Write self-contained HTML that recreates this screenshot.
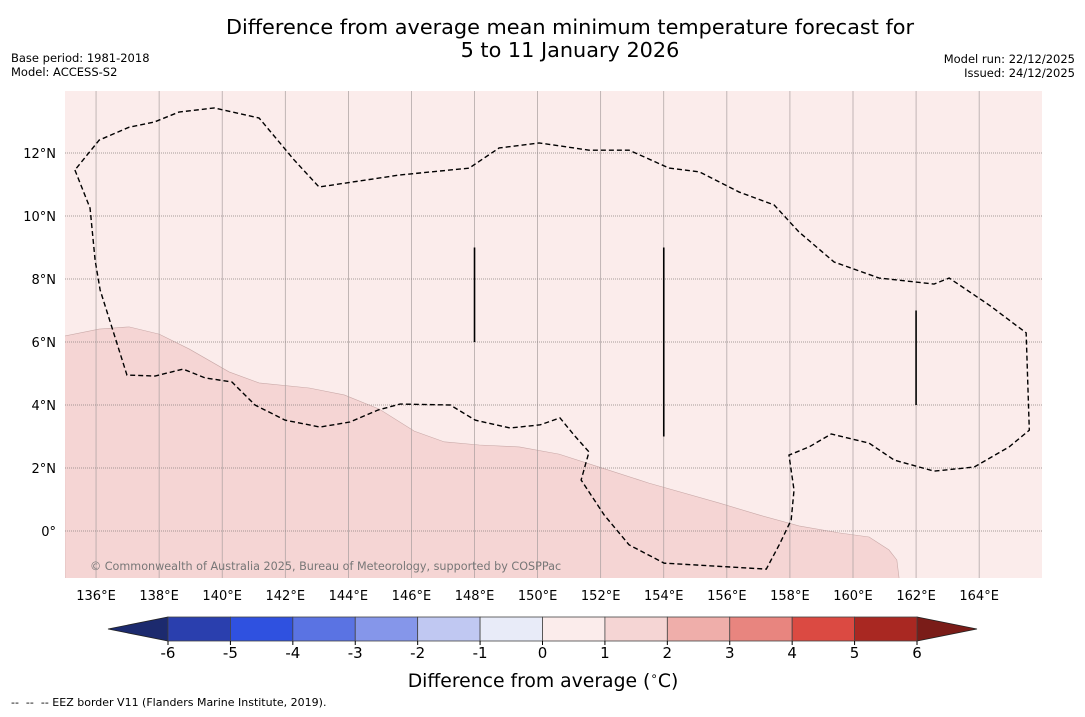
<!DOCTYPE html>
<html><head><meta charset="utf-8">
<style>
html,body{margin:0;padding:0;background:#fff;}
body{width:1085px;height:713px;overflow:hidden;font-family:"DejaVu Sans","Liberation Sans",sans-serif;}
</style></head>
<body>
<svg id="chart" width="1085" height="713" xmlns="http://www.w3.org/2000/svg" font-family="DejaVu Sans, Liberation Sans, sans-serif">
<text x="570" y="34" font-size="20.8" text-anchor="middle">Difference from average mean minimum temperature forecast for</text>
<text x="570" y="57" font-size="20.8" text-anchor="middle">5 to 11 January 2026</text>
<text x="11" y="62" font-size="11.5">Base period: 1981-2018</text>
<text x="11" y="76" font-size="11.5">Model: ACCESS-S2</text>
<text x="1075" y="63" font-size="11.5" text-anchor="end">Model run: 22/12/2025</text>
<text x="1075" y="77" font-size="11.5" text-anchor="end">Issued: 24/12/2025</text>
<g id="map"></g>
<g id="cbar"></g>
<text x="543" y="687" font-size="18.8" text-anchor="middle">Difference from average (<tspan font-size="12" dy="-7">∘</tspan><tspan dy="7">C)</tspan></text>
<text x="11" y="706" font-size="11" xml:space="preserve">--  --  -- EEZ border V11 (Flanders Marine Institute, 2019).</text>
</svg>
<script>
const lonTicks=[136,138,140,142,144,146,148,150,152,154,156,158,160,162,164];
const latTicks=[0,2,4,6,8,10,12];
const cbarTicks=[-6,-5,-4,-3,-2,-1,0,1,2,3,4,5,6];
const cbarColors=["#2a3fae","#2f51e0","#5a73e3","#8596ea","#c0c8f2","#e8ebf8","#fbeceb","#f5d5d4","#efaeaa","#e8857f","#db4a42","#a92822"];
const cbarLowColor="#1c2a6e", cbarHighColor="#7a1c18";
const eezLon=[135.33,135.81,135.97,136.13,136.98,137.87,138.76,139.46,140.31,141.04,141.99,143.1,144.05,144.94,145.64,147.23,148.02,149.13,150.08,150.71,151.15,151.63,151.38,152.11,152.9,154.01,157.25,157.66,158.04,158.13,157.97,158.61,159.31,160.51,161.31,162.57,163.84,164.95,165.59,165.49,164.32,163.05,162.57,160.83,159.4,158.29,157.5,156.39,155.13,154.17,152.9,151.63,150.05,148.78,147.83,145.61,143.07,142.28,141.17,139.75,138.63,137.84,137.05,136.1];
const eezLat=[11.46,10.25,8.6,7.65,4.95,4.92,5.14,4.86,4.73,4.0,3.52,3.3,3.46,3.84,4.03,4.0,3.52,3.27,3.37,3.59,3.05,2.51,1.62,0.51,-0.44,-1.02,-1.21,-0.44,0.35,1.3,2.41,2.67,3.08,2.79,2.25,1.9,2.03,2.67,3.2,6.29,7.17,8.03,7.84,8.03,8.54,9.49,10.35,10.76,11.4,11.52,12.09,12.09,12.32,12.16,11.52,11.3,10.92,11.78,13.11,13.43,13.3,12.98,12.82,12.41];
const warmLon=[135,136.1,137.05,138.0,138.95,140.22,141.17,142.76,143.87,144.98,146.09,147.04,148.15,149.42,150.68,151.95,153.53,155.75,157.02,158.29,159.56,160.51,161.14,161.39,161.46];
const warmLat=[6.19,6.41,6.48,6.25,5.78,5.05,4.7,4.54,4.32,3.87,3.17,2.83,2.73,2.67,2.44,2.03,1.52,0.89,0.51,0.16,-0.06,-0.19,-0.6,-0.92,-1.49];
const markLon=[148,154,162];
const markLatTop=[9,9,7];
const markLatBot=[6,3,4];

const L=65,R=1042,T=91,B=578;
const X=lon=>64.5+(lon-135)*31.54;
const Y=lat=>531-lat*31.5;
const NS="http://www.w3.org/2000/svg";
function mk(tag,attrs,parent){const e=document.createElementNS(NS,tag);for(const k in attrs)e.setAttribute(k,attrs[k]);parent.appendChild(e);return e;}
const map=document.getElementById('map');
const clip=mk('clipPath',{id:'mc'},map);mk('rect',{x:L,y:T,width:R-L,height:B-T},clip);
const bg=mk('rect',{x:L,y:T,width:R-L,height:B-T,fill:cbarColors[6]},map);


const g=mk('g',{'clip-path':'url(#mc)'},map);
let wp=warmLon.map((v,i)=>X(v)+','+Y(warmLat[i])).join(' ');
wp+=' '+X(warmLon[warmLon.length-1])+','+(B+5)+' '+L+','+(B+5);
const warm=mk('polygon',{points:wp,fill:cbarColors[7],stroke:'#c9a9a8','stroke-width':0.6},g);


lonTicks.forEach(v=>{const l=mk('line',{x1:X(v),x2:X(v),y1:T,y2:B,stroke:'#a89e9e','stroke-width':0.7},g);

});
latTicks.forEach(v=>{const l=mk('line',{x1:L,x2:R,y1:Y(v),y2:Y(v),stroke:'#8a8080','stroke-width':0.8,'stroke-dasharray':'1,1'},g);

});
const eez=mk('polygon',{points:eezLon.map((v,i)=>X(v)+','+Y(eezLat[i])).join(' '),fill:'none',stroke:'#000','stroke-width':1.4,'stroke-dasharray':'5,3'},g);


markLon.forEach((v,i)=>{const l=mk('line',{x1:X(v),x2:X(v),y1:Y(markLatTop[i]),y2:Y(markLatBot[i]),stroke:'#000','stroke-width':1.6},g);

});
const cr=mk('text',{x:90,y:570,'font-size':11.2,fill:'#777'},g);cr.textContent='© Commonwealth of Australia 2025, Bureau of Meteorology, supported by COSPPac';


lonTicks.forEach(v=>{const t=mk('text',{x:X(v),y:600,'font-size':13,'text-anchor':'middle'},map);t.textContent=v+'°E';

});
latTicks.forEach(v=>{const t=mk('text',{x:56,y:Y(v)+5,'font-size':13,'text-anchor':'end'},map);t.textContent=v===0?'0°':v+'°N';

});
const cb=document.getElementById('cbar');
const c0=168,c1=917,cy0=617,cy1=641;
const CX=v=>c0+(v-cbarTicks[0])/(cbarTicks[cbarTicks.length-1]-cbarTicks[0])*(c1-c0);
const la=mk('polygon',{points:`108,629 ${c0},${cy0} ${c0},${cy1}`,fill:cbarLowColor,stroke:'#222','stroke-width':0.8},cb);


const ra=mk('polygon',{points:`977,629 ${c1},${cy0} ${c1},${cy1}`,fill:cbarHighColor,stroke:'#222','stroke-width':0.8},cb);


cbarColors.forEach((c,i)=>{const r=mk('rect',{x:CX(cbarTicks[i]),y:cy0,width:CX(cbarTicks[i+1])-CX(cbarTicks[i]),height:cy1-cy0,fill:c,stroke:'#444','stroke-width':0.8},cb);

});
cbarTicks.forEach(v=>{mk('line',{x1:CX(v),x2:CX(v),y1:cy1,y2:cy1+4,stroke:'#000'},cb);
const t=mk('text',{x:CX(v),y:658,'font-size':15,'text-anchor':'middle'},cb);t.textContent=v;

});
</script>
</body></html>
